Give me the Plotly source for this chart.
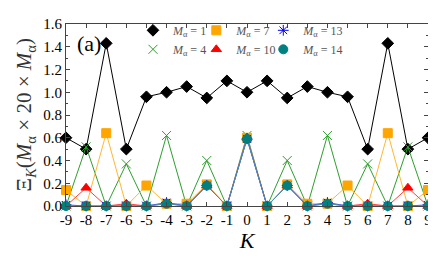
import plotly.graph_objects as go

K = list(range(-9, 10))
m1 = [0.60, 0.50, 1.43, 0.50, 0.96, 1.00, 1.05, 0.95, 1.10, 1.00, 1.10, 0.95, 1.05, 1.00, 0.96, 0.50, 1.43, 0.50, 0.60]
m4 = [0.00, 0.52, 0.00, 0.37, 0.00, 0.62, 0.00, 0.40, 0.00, 0.62, 0.00, 0.40, 0.00, 0.62, 0.00, 0.37, 0.00, 0.52, 0.00]
m7 = [0.14, 0.00, 0.64, 0.00, 0.18, 0.02, 0.02, 0.19, 0.00, 0.60, 0.00, 0.19, 0.02, 0.02, 0.18, 0.00, 0.64, 0.00, 0.14]
m10 = [0.00, 0.16, 0.00, 0.02, 0.00, 0.02, 0.00, 0.18, 0.00, 0.60, 0.00, 0.18, 0.00, 0.02, 0.00, 0.02, 0.00, 0.16, 0.00]
m13 = [0.01, 0.00, 0.00, 0.00, 0.00, 0.03, 0.00, 0.18, 0.00, 0.59, 0.00, 0.18, 0.00, 0.03, 0.00, 0.00, 0.00, 0.00, 0.01]
m14 = [0.00, 0.00, 0.00, 0.00, 0.00, 0.02, 0.00, 0.18, 0.00, 0.59, 0.00, 0.18, 0.00, 0.02, 0.00, 0.00, 0.00, 0.00, 0.00]

series = [
    ("1", m1, "black", "diamond", 9, "black", "legend"),
    ("4", m4, "#2E9E2E", "x-thin-open", 9, "#2E9E2E", "legend"),
    ("7", m7, "#FFA500", "square", 9, "#FFB733", "legend2"),
    ("10", m10, "red", "triangle-up", 9, "#FF4040", "legend2"),
    ("13", m13, "blue", "asterisk-open", 9, "#3050FF", "legend3"),
    ("14", m14, "#008080", "circle", 9, "#4A90B0", "legend3"),
]

FONT = "Liberation Serif"
fig = go.Figure()
for name, ys, col, sym, sz, lcol, leg in series:
    fig.add_trace(go.Scatter(
        x=K, y=ys, mode="lines+markers", showlegend=False,
        line=dict(color=lcol, width=1),
        marker=dict(symbol=sym, size=sz, color=col, line=dict(color=col, width=1)),
        cliponaxis=False,
    ))
for name, ys, col, sym, sz, lcol, leg in series:
    fig.add_trace(go.Scatter(
        x=[None], y=[None], mode="markers", legend=leg,
        name="<i>M</i><sub>α</sub> = " + name,
        marker=dict(symbol=sym, size=sz, color=col, line=dict(color=col, width=1)),
    ))

legstyle = dict(bgcolor="rgba(0,0,0,0)", font=dict(family=FONT, size=12, color="#555"),
                yanchor="top", xanchor="left", tracegroupgap=0, itemwidth=30)
fig.update_layout(
    width=436, height=262,
    margin=dict(l=58, r=16, t=8, b=64),
    plot_bgcolor="white", paper_bgcolor="white",
    font=dict(family=FONT, size=15, color="black"),
    legend=dict(x=0.185, y=1.045, **legstyle),
    legend2=dict(x=0.36, y=1.045, **legstyle),
    legend3=dict(x=0.545, y=1.045, **legstyle),
    xaxis=dict(range=[-9, 9], tickmode="array", tickvals=K, ticktext=[str(k) for k in K],
               ticks="inside", ticklen=4, mirror="ticks", showline=True, linecolor="#444",
               linewidth=1, showgrid=False, zeroline=False, automargin=False,
               tickfont=dict(size=15),
               title=dict(text="<i>K</i>", font=dict(size=22), standoff=4)),
    yaxis=dict(range=[0, 1.6], tickmode="array", tickvals=[0, 0.2, 0.4, 0.6, 0.8, 1.0, 1.2, 1.4, 1.6],
               ticktext=["0.0", "0.2", "0.4", "0.6", "0.8", "1.0", "1.2", "1.4", "1.6"],
               ticks="inside", ticklen=4, mirror="ticks", showline=True, linecolor="#444",
               linewidth=1, showgrid=False, zeroline=False, automargin=False,
               tickfont=dict(size=15),
               minor=dict(ticks="inside", ticklen=2, dtick=0.1)),
    annotations=[
        dict(text="(a)", x=0.025, y=0.895, xref="paper", yref="paper",
             xanchor="left", yanchor="middle", showarrow=False,
             font=dict(family=FONT, size=22)),
        dict(text="Ξ<sub><i>K</i></sub>(<i>M</i><sub>α</sub> × 20 × <i>M</i><sub>α</sub>)",
             x=-0.112, y=0.5, xref="paper", yref="paper", textangle=-90,
             xanchor="center", yanchor="middle", showarrow=False,
             font=dict(family=FONT, size=21, color="#333")),
    ],
)
fig.write_html("out.html")
